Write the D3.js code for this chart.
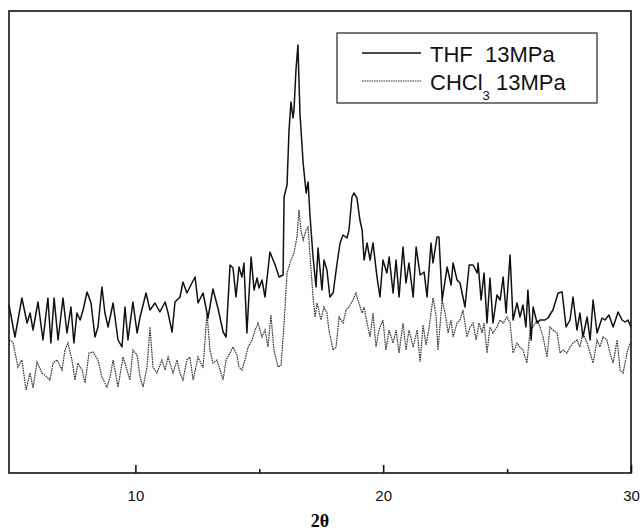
<!DOCTYPE html>
<html>
<head>
<meta charset="utf-8">
<script src="https://cdn.jsdelivr.net/npm/d3@7"></script>
<style>
  body { margin: 0; background: #fff; }
  svg text { font-family: "Liberation Sans", Arial, sans-serif; }
</style>
</head>
<body>
<div id="chart"></div>
<script>
// XRD patterns, [2theta (deg), intensity (a.u.)]
var thf = [
  [4.90,168],[5.14,136],[5.42,175],[5.63,150],[5.75,160],[5.87,143],[6.07,171],[6.27,133],
  [6.47,175],[6.59,130],[6.72,175],[6.88,133],[7.08,175],[7.24,140],[7.40,166],[7.52,130],
  [7.64,160],[7.77,153],[7.89,163],[8.05,181],[8.21,170],[8.37,136],[8.49,146],[8.65,186],
  [8.77,160],[8.90,146],[9.10,170],[9.30,133],[9.46,126],[9.58,166],[9.70,133],[9.90,171],
  [10.07,140],[10.19,156],[10.43,180],[10.59,163],[10.79,170],[10.99,161],[11.20,171],[11.32,160],
  [11.48,141],[11.60,171],[11.80,176],[11.92,191],[12.08,180],[12.24,188],[12.41,196],[12.53,170],
  [12.73,180],[12.93,155],[13.13,184],[13.34,164],[13.54,141],[13.66,136],[13.82,208],[13.94,205],
  [14.06,176],[14.18,206],[14.30,196],[14.38,210],[14.50,140],[14.67,216],[14.79,183],[14.91,195],
  [14.99,185],[15.11,193],[15.23,176],[15.43,221],[15.64,208],[15.80,196],[15.96,198],[16.00,276],
  [16.12,288],[16.20,343],[16.28,371],[16.36,355],[16.40,363],[16.48,403],[16.56,428],[16.64,360],
  [16.77,310],[16.89,280],[16.97,291],[17.05,256],[17.17,216],[17.29,186],[17.37,225],[17.53,183],
  [17.61,213],[17.73,203],[17.85,176],[17.98,180],[18.14,210],[18.26,230],[18.38,238],[18.54,235],
  [18.62,243],[18.74,276],[18.82,280],[18.94,275],[19.06,253],[19.15,243],[19.23,213],[19.35,230],
  [19.47,213],[19.59,230],[19.75,196],[19.87,176],[19.99,213],[20.15,200],[20.24,216],[20.40,180],
  [20.52,213],[20.64,176],[20.80,226],[20.92,190],[21.04,210],[21.21,176],[21.33,226],[21.49,198],
  [21.65,201],[21.77,176],[21.93,230],[22.01,210],[22.17,236],[22.25,236],[22.38,173],[22.58,206],
  [22.74,188],[22.82,210],[22.98,193],[23.10,190],[23.30,166],[23.47,208],[23.63,208],[23.79,200],
  [23.83,210],[23.95,173],[24.07,200],[24.19,150],[24.31,195],[24.43,150],[24.59,178],[24.72,173],
  [24.84,196],[24.96,160],[25.12,218],[25.24,153],[25.40,170],[25.52,156],[25.64,168],[25.76,146],
  [25.84,183],[25.97,133],[26.05,166],[26.21,150],[26.33,153],[26.53,153],[26.65,155],[26.85,163],
  [27.06,180],[27.22,181],[27.38,146],[27.54,153],[27.66,176],[27.82,143],[27.94,160],[28.06,136],
  [28.23,156],[28.35,133],[28.47,173],[28.63,140],[28.83,155],[28.95,153],[29.11,158],[29.28,146],
  [29.48,161],[29.64,153],[29.76,151],[29.88,153],[30.00,146]
];

var chcl3 = [
  [4.90,133],[5.06,131],[5.26,106],[5.42,113],[5.59,83],[5.75,100],[5.87,85],[6.03,111],
  [6.23,100],[6.43,96],[6.55,93],[6.68,110],[6.84,113],[7.04,103],[7.16,123],[7.28,130],
  [7.44,113],[7.56,93],[7.68,110],[7.85,103],[7.97,90],[8.13,120],[8.29,121],[8.49,113],
  [8.65,96],[8.85,86],[8.98,96],[9.10,113],[9.30,86],[9.50,116],[9.66,103],[9.78,93],
  [9.90,123],[10.07,118],[10.19,96],[10.31,86],[10.47,106],[10.59,146],[10.71,106],[10.87,100],
  [11.07,113],[11.20,103],[11.32,116],[11.52,100],[11.68,113],[11.80,100],[11.92,93],[12.08,113],
  [12.20,116],[12.33,93],[12.53,116],[12.73,105],[12.89,160],[13.01,123],[13.13,110],[13.29,113],
  [13.42,103],[13.54,93],[13.66,113],[13.82,120],[13.94,126],[14.10,118],[14.18,106],[14.30,103],
  [14.42,113],[14.55,126],[14.71,133],[14.83,143],[14.95,150],[15.11,136],[15.23,143],[15.35,126],
  [15.47,158],[15.59,123],[15.76,106],[15.88,108],[16.00,150],[16.12,200],[16.28,213],[16.40,220],
  [16.52,236],[16.60,263],[16.68,243],[16.77,233],[16.89,243],[16.97,246],[17.05,216],[17.17,176],
  [17.25,156],[17.33,170],[17.49,153],[17.61,166],[17.73,160],[17.81,143],[17.98,123],[18.10,126],
  [18.22,156],[18.38,150],[18.50,163],[18.62,166],[18.78,173],[18.90,180],[18.98,173],[19.15,160],
  [19.23,166],[19.35,150],[19.47,136],[19.59,160],[19.71,126],[19.83,143],[19.99,153],[20.11,123],
  [20.24,143],[20.40,130],[20.52,143],[20.64,120],[20.80,150],[20.92,123],[21.04,143],[21.21,126],
  [21.37,143],[21.49,111],[21.61,148],[21.73,128],[21.85,145],[22.01,175],[22.13,158],[22.21,123],
  [22.38,173],[22.50,160],[22.62,140],[22.74,153],[22.82,136],[22.98,150],[23.10,153],[23.22,163],
  [23.38,136],[23.51,146],[23.63,150],[23.75,133],[23.87,150],[23.99,140],[24.07,150],[24.19,120],
  [24.31,146],[24.43,140],[24.59,146],[24.72,153],[24.84,150],[25.00,156],[25.12,150],[25.24,120],
  [25.40,130],[25.52,126],[25.64,123],[25.80,110],[25.93,143],[26.05,146],[26.21,153],[26.33,146],
  [26.45,136],[26.61,116],[26.73,146],[26.85,143],[27.02,140],[27.14,120],[27.26,123],[27.42,120],
  [27.54,126],[27.66,130],[27.82,133],[27.94,126],[28.06,140],[28.23,130],[28.35,120],[28.47,110],
  [28.63,133],[28.75,126],[28.87,136],[29.03,133],[29.15,120],[29.28,110],[29.44,133],[29.56,103],
  [29.68,100],[29.84,120],[29.96,130]
];

var majorTicks = [10, 20, 30];
var minorTicks = [15, 25];
var xRange = [4.9, 30];
var yRange = [0, 462];

var margin = { top: 11, right: 12, bottom: 59, left: 9 },
    width = 643 - margin.left - margin.right,
    height = 532 - margin.top - margin.bottom;

var svg = d3.select("#chart")
    .append("svg")
    .attr("width", width + margin.left + margin.right)
    .attr("height", height + margin.top + margin.bottom)
    .append("g")
    .attr("transform", "translate(" + margin.left + "," + margin.top + ")");

var x = d3.scaleLinear().domain(xRange).range([0, width]);
var y = d3.scaleLinear().domain(yRange).range([height, 0]);

var line = d3.line()
    .x(function (d) { return x(d[0]); })
    .y(function (d) { return y(d[1]); });

// CHCl3 first so THF sits on top
svg.append("path")
    .datum(chcl3)
    .attr("fill", "none")
    .attr("stroke", "#333")
    .attr("stroke-width", 1.2)
    .attr("stroke-dasharray", "1.6,0.8")
    .attr("d", line);

svg.append("path")
    .datum(thf)
    .attr("fill", "none")
    .attr("stroke", "#111")
    .attr("stroke-width", 1.5)
    .attr("stroke-linejoin", "round")
    .attr("d", line);

// frame
svg.append("rect")
    .attr("width", width)
    .attr("height", height)
    .attr("fill", "none")
    .attr("stroke", "#111")
    .attr("stroke-width", 1.6);

// bottom axis: inward ticks, labels only on majors
var xAxis = svg.append("g")
    .attr("transform", "translate(0," + height + ")")
    .call(d3.axisBottom(x).tickValues(majorTicks).tickSize(-8).tickPadding(17));
xAxis.select(".domain").remove();
xAxis.selectAll(".tick line").attr("stroke", "#111").attr("stroke-width", 1.6);
xAxis.selectAll(".tick text")
    .attr("fill", "#111")
    .style("font-size", "15px");

svg.append("g")
    .attr("transform", "translate(0," + height + ")")
    .call(d3.axisBottom(x).tickValues(minorTicks).tickSize(-4).tickFormat(""))
    .call(function (g) { g.select(".domain").remove(); })
    .selectAll(".tick line").attr("stroke", "#111").attr("stroke-width", 1.6);

svg.append("text")
    .attr("text-anchor", "middle")
    .attr("x", width / 2)
    .attr("y", height + 54)
    .style("font-family", "'Liberation Serif', 'Times New Roman', serif")
    .style("font-weight", "bold")
    .style("font-size", "18px")
    .text("2θ");

// legend
var lg = svg.append("g").attr("transform", "translate(328,22)");
lg.append("rect")
    .attr("width", 260)
    .attr("height", 70)
    .attr("fill", "#fff")
    .attr("stroke", "#222")
    .attr("stroke-width", 1.2);

lg.append("line")
    .attr("x1", 25).attr("x2", 84).attr("y1", 20).attr("y2", 20)
    .attr("stroke", "#111").attr("stroke-width", 1.3);
lg.append("line")
    .attr("x1", 25).attr("x2", 84).attr("y1", 48).attr("y2", 48)
    .attr("stroke", "#333").attr("stroke-width", 1.2)
    .attr("stroke-dasharray", "1.6,0.8");

lg.append("text")
    .attr("x", 93).attr("y", 29)
    .style("font-size", "22px")
    .style("white-space", "pre")
    .attr("fill", "#111")
    .text("THF  13MPa");

var t2 = lg.append("text")
    .attr("x", 93).attr("y", 57)
    .style("font-size", "22px")
    .attr("fill", "#111");
t2.append("tspan").text("CHCl");
t2.append("tspan").attr("dy", 10).style("font-size", "13px").text("3");
t2.append("tspan").attr("dy", -10).text(" 13MPa");
</script>
</body>
</html>
